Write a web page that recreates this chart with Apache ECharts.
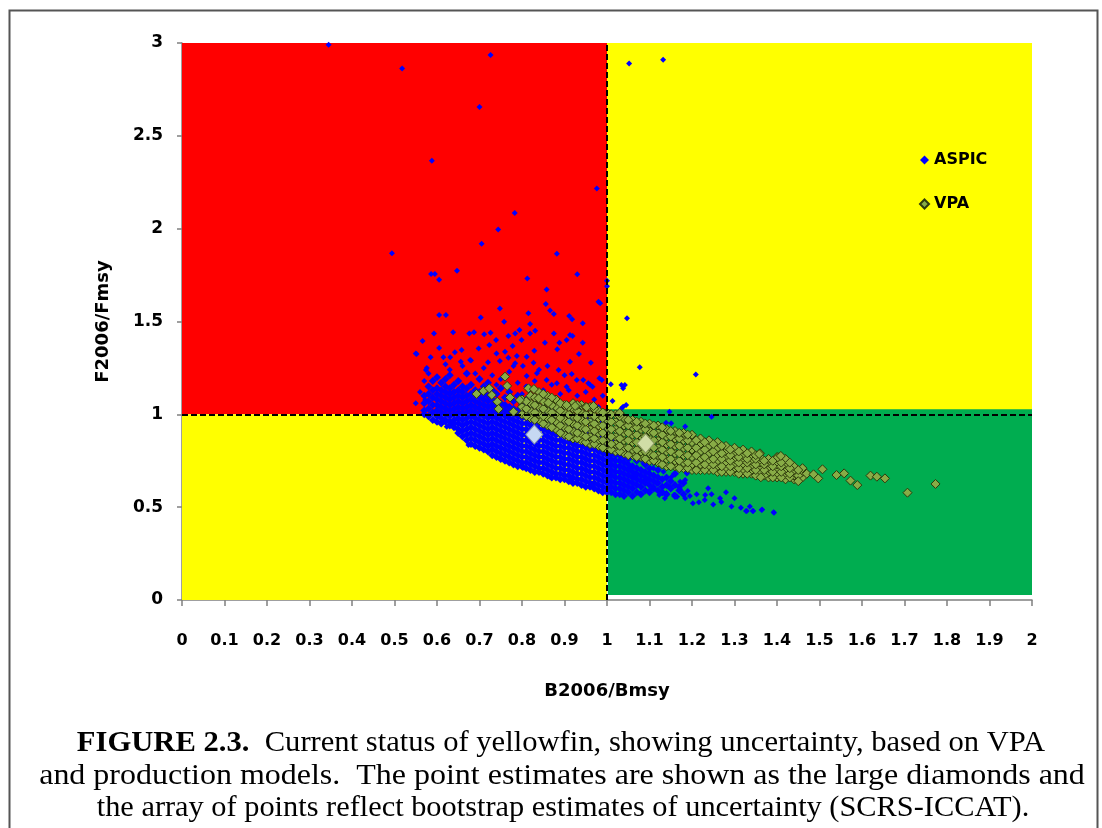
<!DOCTYPE html>
<html><head><meta charset="utf-8">
<script src="https://cdn.jsdelivr.net/npm/echarts@6/dist/echarts.min.js"></script>
<style>html,body{margin:0;padding:0;background:#fff}#c{width:1102px;height:828px}</style>
</head><body><div id="c"></div><script>
// ---------- tick labels ----------
const xTickLabels = ['0','0.1','0.2','0.3','0.4','0.5','0.6','0.7','0.8','0.9','1','1.1','1.2','1.3','1.4','1.5','1.6','1.7','1.8','1.9','2'];
const yTickLabels = ['0','0.5','1','1.5','2','2.5','3'];

// ---------- status zones (x0, y0, x1, y1) ----------
const zoneRed      = [0, 1, 1, 3];
const zoneYellowTR = [1, 1, 2, 3];
const zoneYellowBL = [0, 0, 1, 1];
const zoneGreen    = [1.002, 0.027, 2.002, 1.027];
const refX = 1, refY = 1;

// ---------- ASPIC bootstrap points: dense band, by column ----------
const aspicColX = [0.57,0.58,0.59,0.60,0.61,0.62,0.63,0.64,0.65,0.66,0.67,0.68,0.69,0.70,0.71,0.72,0.73,0.74,0.75,0.76,0.77,0.78,0.79,0.80,0.81,0.82,0.83,0.84,0.85,0.86,0.87,0.88,0.89,0.90,0.91,0.92,0.93,0.94,0.95,0.96,0.97,0.98,0.99,1.00,1.01,1.02,1.03,1.04,1.05,1.06,1.07,1.08,1.09,1.10,1.11,1.12,1.13,1.14,1.15,1.16,1.17,1.18];
const aspicColY = [
 [1.00,1.02,1.06,1.10],
 [0.99,1.03,1.07,1.11,1.15],
 [0.97,1.01,1.05,1.09,1.13,1.18],
 [0.96,0.99,1.02,1.05,1.08,1.11,1.14,1.20],
 [0.95,0.98,1.01,1.04,1.07,1.10,1.13,1.17],
 [0.96,0.97,1.00,1.03,1.06,1.09,1.12,1.15,1.19],
 [0.94,0.96,0.99,1.02,1.05,1.08,1.11,1.14,1.21],
 [0.93,0.95,0.97,1.00,1.03,1.06,1.09,1.12,1.16],
 [0.90,0.92,0.95,0.98,1.01,1.04,1.07,1.10,1.13,1.18],
 [0.88,0.91,0.94,0.97,1.00,1.03,1.06,1.09,1.12,1.15],
 [0.86,0.89,0.92,0.95,0.98,1.01,1.04,1.07,1.10,1.14,1.22],
 [0.84,0.87,0.90,0.93,0.96,0.99,1.02,1.05,1.08,1.11,1.16],
 [0.83,0.86,0.89,0.92,0.95,0.98,1.01,1.04,1.07,1.10,1.13],
 [0.82,0.85,0.88,0.91,0.94,0.97,1.00,1.03,1.06,1.09,1.12,1.19],
 [0.81,0.84,0.87,0.90,0.93,0.96,0.99,1.02,1.05,1.08,1.11,1.15],
 [0.80,0.83,0.86,0.89,0.92,0.95,0.98,1.01,1.04,1.07,1.10,1.17],
 [0.78,0.81,0.84,0.87,0.90,0.93,0.96,0.99,1.02,1.05,1.08,1.13],
 [0.77,0.80,0.83,0.86,0.89,0.92,0.95,0.98,1.01,1.04,1.07,1.11],
 [0.76,0.79,0.82,0.85,0.88,0.91,0.94,0.97,1.00,1.03,1.06,1.14],
 [0.75,0.78,0.81,0.84,0.87,0.90,0.93,0.96,0.99,1.02,1.05,1.09],
 [0.74,0.77,0.80,0.83,0.86,0.89,0.92,0.95,0.98,1.01,1.04,1.12],
 [0.73,0.76,0.79,0.82,0.85,0.88,0.91,0.94,0.97,1.00,1.03,1.07],
 [0.72,0.75,0.78,0.81,0.84,0.87,0.90,0.93,0.96,0.99,1.02,1.10],
 [0.72,0.74,0.77,0.80,0.83,0.86,0.89,0.92,0.95,0.98,1.01,1.05],
 [0.71,0.74,0.77,0.80,0.83,0.86,0.89,0.92,0.95,0.98,1.01,1.08],
 [0.70,0.73,0.76,0.79,0.82,0.85,0.88,0.91,0.94,0.97,1.00,1.04],
 [0.69,0.72,0.75,0.78,0.81,0.84,0.87,0.90,0.93,0.96,0.99,1.06],
 [0.69,0.71,0.74,0.77,0.80,0.83,0.86,0.89,0.92,0.95,0.98,1.02],
 [0.68,0.71,0.74,0.77,0.80,0.83,0.86,0.89,0.92,0.95,0.98,1.04],
 [0.67,0.70,0.73,0.76,0.79,0.82,0.85,0.88,0.91,0.94,0.97,1.01],
 [0.66,0.69,0.72,0.75,0.78,0.81,0.84,0.87,0.90,0.93,0.96,1.03],
 [0.66,0.68,0.71,0.74,0.77,0.80,0.83,0.86,0.89,0.92,0.95,0.99],
 [0.65,0.68,0.71,0.74,0.77,0.80,0.83,0.86,0.89,0.92,0.95,1.02],
 [0.65,0.67,0.70,0.73,0.76,0.79,0.82,0.85,0.88,0.91,0.94,0.98],
 [0.64,0.67,0.70,0.73,0.76,0.79,0.82,0.85,0.88,0.91,0.94,1.00],
 [0.63,0.66,0.69,0.72,0.75,0.78,0.81,0.84,0.87,0.90,0.93,0.97],
 [0.63,0.65,0.68,0.71,0.74,0.77,0.80,0.83,0.86,0.89,0.92,0.99],
 [0.62,0.65,0.68,0.71,0.74,0.77,0.80,0.83,0.86,0.89,0.92,0.96],
 [0.61,0.64,0.67,0.70,0.73,0.76,0.79,0.82,0.85,0.88,0.91,0.98],
 [0.61,0.63,0.66,0.69,0.72,0.75,0.78,0.81,0.84,0.87,0.90,0.95],
 [0.60,0.63,0.66,0.69,0.72,0.75,0.78,0.81,0.84,0.87,0.90,0.97],
 [0.59,0.62,0.65,0.68,0.71,0.74,0.77,0.80,0.83,0.86,0.89,0.94],
 [0.58,0.61,0.64,0.67,0.70,0.73,0.76,0.79,0.82,0.85,0.88,0.96],
 [0.58,0.60,0.63,0.66,0.69,0.72,0.75,0.78,0.81,0.84,0.87,0.92],
 [0.58,0.61,0.64,0.67,0.70,0.73,0.76,0.79,0.82,0.85],
 [0.57,0.60,0.63,0.66,0.69,0.72,0.75,0.78,0.81,0.86],
 [0.57,0.60,0.63,0.66,0.69,0.72,0.75,0.78,0.83],
 [0.56,0.59,0.62,0.65,0.68,0.71,0.74,0.77,0.80],
 [0.58,0.61,0.64,0.67,0.70,0.73,0.76,0.82],
 [0.56,0.60,0.63,0.66,0.69,0.72,0.78],
 [0.58,0.62,0.65,0.68,0.71,0.75],
 [0.57,0.61,0.64,0.67,0.70,0.76],
 [0.59,0.63,0.66,0.69,0.73],
 [0.58,0.62,0.65,0.68,0.71],
 [0.60,0.64,0.67,0.74],
 [0.59,0.63,0.66,0.70],
 [0.58,0.61,0.65],
 [0.57,0.62,0.66],
 [0.60,0.64],
 [0.56,0.62,0.68],
 [0.59,0.61],
 [0.57,0.63]
];
// ---------- ASPIC scattered points ----------
const aspicScatter = [
 [0.345,2.99],[0.726,2.935],[0.518,2.862],[0.70,2.655],[0.588,2.366],[0.976,2.217],[0.783,2.084],[0.744,1.995],
 [0.705,1.919],[0.494,1.867],[0.882,1.865],[0.586,1.756],[0.595,1.756],[0.605,1.725],[0.647,1.774],[0.8125,1.731],
 [0.93,1.754],[0.858,1.673],[1.0,1.72],[1.0,1.69],[1.052,2.89],[1.132,2.91],[1.047,1.518],[1.077,1.253],[1.209,1.214],
 [0.988,1.185],[1.009,1.162],[1.042,1.158],[1.038,1.14],[1.013,1.072],[1.045,1.05],[1.038,1.041],[1.147,1.014],
 [1.246,0.987],[1.139,0.955],[1.151,0.952],[1.184,0.934],[1.034,1.158],[1.034,1.032],
 [0.605,1.535],[0.621,1.535],[0.593,1.436],[0.638,1.442],[0.566,1.395],[0.552,1.325],[0.574,1.239],[0.605,1.357],
 [0.585,1.307],[0.615,1.307],[0.642,1.334],[0.658,1.346],[0.676,1.436],[0.687,1.442],[0.711,1.431],[0.703,1.521],
 [0.748,1.57],[0.758,1.499],[0.726,1.44],[0.739,1.40],[0.723,1.373],[0.698,1.354],[0.678,1.293],[0.656,1.283],
 [0.631,1.307],[0.768,1.422],[0.784,1.436],[0.794,1.454],[0.819,1.436],[0.819,1.486],[0.815,1.544],[0.831,1.45],
 [0.799,1.40],[0.778,1.368],[0.76,1.337],[0.74,1.328],[0.748,1.287],[0.768,1.305],[0.788,1.314],[0.811,1.31],
 [0.829,1.343],[0.856,1.594],[0.866,1.559],[0.875,1.54],[0.854,1.386],[0.875,1.436],[0.888,1.386],[0.883,1.35],
 [0.905,1.40],[0.913,1.427],[0.919,1.422],[0.911,1.53],[0.918,1.512],[0.943,1.49],[0.943,1.386],[0.913,1.283],
 [0.934,1.325],[0.962,1.278],[0.98,1.607],[0.984,1.598],[0.966,1.149],[0.944,1.185],[0.917,1.217],[0.886,1.239],
 [0.86,1.26],[0.827,1.278],[0.802,1.26],[0.784,1.275],[0.835,1.221],[0.811,1.206],[0.858,1.185],[0.882,1.167],
 [0.905,1.149],[0.929,1.185],[0.956,1.167],[0.982,1.194],[0.55,1.328],[0.576,1.25],[0.591,1.131],[0.572,1.077],
 [0.63,1.24],[0.66,1.26],[0.69,1.22],[0.71,1.25],[0.73,1.21],[0.75,1.19],[0.77,1.23],[0.79,1.17],[0.81,1.15],
 [0.83,1.18],[0.85,1.13],[0.87,1.16],[0.89,1.11],[0.91,1.13],[0.93,1.10],[0.95,1.12],[0.97,1.08],[0.99,1.10],
 [0.72,1.28],[0.78,1.26],[0.84,1.24],[0.90,1.21],[0.96,1.16],[0.62,1.27],[0.68,1.29],[0.86,1.09],[0.92,1.06],
 [0.98,1.04],[0.80,1.11],[0.74,1.16],[0.57,1.18],[0.56,1.12],[0.55,1.06],[0.58,1.22],
 [0.623,0.933],[0.674,0.835],[0.748,0.765],[0.802,0.711],[0.866,0.662],[0.913,0.646],[0.967,0.609],[0.988,0.583],
 [1.28,0.58],[1.30,0.548],[1.329,0.479],[1.344,0.479],[1.365,0.488],[1.392,0.472],[1.315,0.497],[1.293,0.503],
 [1.269,0.528],[1.25,0.515],[1.238,0.602],[1.246,0.569],[1.23,0.539],[1.216,0.526],[1.211,0.569],[1.202,0.521],
 [1.184,0.548],[1.19,0.587],[1.172,0.596],[1.165,0.556],[1.158,0.567],[1.136,0.548],[1.131,0.575],[1.123,0.566],
 [1.101,0.592],[1.336,0.503],[1.327,0.479],[1.343,0.479],[1.364,0.485],[1.393,0.47],[1.266,0.548],[1.231,0.566],
 [1.195,0.56],[1.188,0.686],[1.184,0.646],[1.16,0.566],[1.14,0.575],[1.109,0.61],[1.093,0.646],[1.078,0.575],
 [1.07,0.679],[1.054,0.718],[1.086,0.736],[1.109,0.709],[1.133,0.691],[1.152,0.664],[1.172,0.637],[1.188,0.682],
 [1.148,0.61],[1.117,0.625],[1.086,0.637],[1.062,0.664],[1.14,0.566],[1.164,0.557]
];

// ---------- VPA bootstrap points: dense band, by column ----------
const vpaColX = [0.80,0.82,0.84,0.86,0.88,0.90,0.92,0.94,0.96,0.98,1.00,1.02,1.04,1.06,1.08,1.10,1.12,1.14,1.16,1.18,1.20,1.22,1.24,1.26,1.28,1.30,1.32,1.34,1.36,1.38,1.40,1.42,1.44,1.46];
const vpaColY = [
 [1.00,1.04,1.08],
 [0.98,1.02,1.06,1.10],
 [0.97,1.00,1.04,1.08,1.12],
 [0.94,0.98,1.02,1.06,1.10],
 [0.92,0.96,1.00,1.04,1.08],
 [0.89,0.93,0.97,1.01,1.05],
 [0.87,0.91,0.95,0.99,1.03,1.06],
 [0.86,0.89,0.93,0.97,1.01,1.05],
 [0.84,0.88,0.92,0.96,1.00,1.04],
 [0.83,0.86,0.90,0.94,0.98,1.02],
 [0.81,0.85,0.89,0.93,0.97,1.01],
 [0.80,0.84,0.88,0.92,0.96,1.00],
 [0.79,0.82,0.86,0.90,0.94,0.98],
 [0.78,0.81,0.85,0.89,0.93,0.97],
 [0.77,0.80,0.84,0.88,0.92,0.96],
 [0.75,0.79,0.83,0.87,0.91,0.95],
 [0.74,0.78,0.82,0.86,0.90,0.94],
 [0.72,0.76,0.80,0.84,0.88,0.92],
 [0.72,0.75,0.79,0.83,0.87,0.91],
 [0.71,0.74,0.78,0.82,0.86,0.90],
 [0.70,0.73,0.77,0.81,0.85,0.89],
 [0.70,0.73,0.76,0.80,0.84,0.87],
 [0.70,0.72,0.75,0.79,0.83,0.86],
 [0.69,0.72,0.75,0.78,0.82,0.85],
 [0.69,0.71,0.74,0.77,0.80,0.83],
 [0.69,0.71,0.73,0.76,0.79,0.82],
 [0.68,0.70,0.73,0.76,0.78,0.81],
 [0.68,0.70,0.72,0.75,0.78,0.80],
 [0.67,0.69,0.72,0.74,0.77,0.79],
 [0.66,0.69,0.71,0.74,0.76],
 [0.66,0.68,0.71,0.73,0.77],
 [0.65,0.68,0.70,0.73,0.76],
 [0.65,0.67,0.70,0.72],
 [0.66,0.69,0.71]
];
const vpaColX2 = [0.81,0.83,0.85,0.87,0.89,0.91,0.93,0.95,0.97,0.99,1.01,1.03,1.05,1.07,1.09,1.11,1.13,1.15,1.17,1.19,1.21,1.23,1.25,1.27,1.29,1.31,1.33,1.35,1.37,1.39,1.41,1.43,1.45];
const vpaColY2 = [
 [0.99,1.03,1.07],
 [0.97,1.01,1.05,1.09],
 [0.95,0.99,1.03,1.07,1.11],
 [0.93,0.97,1.01,1.05,1.09],
 [0.90,0.94,0.98,1.02,1.06],
 [0.88,0.92,0.96,1.00,1.04],
 [0.87,0.90,0.94,0.98,1.02,1.05],
 [0.85,0.88,0.92,0.96,1.00,1.04],
 [0.84,0.87,0.91,0.95,0.99,1.03],
 [0.82,0.86,0.90,0.94,0.98,1.01],
 [0.81,0.84,0.88,0.92,0.96,1.00],
 [0.80,0.83,0.87,0.91,0.95,0.99],
 [0.78,0.82,0.86,0.90,0.94,0.97],
 [0.77,0.81,0.85,0.89,0.93,0.96],
 [0.76,0.80,0.84,0.88,0.92,0.95],
 [0.75,0.78,0.82,0.86,0.90,0.94],
 [0.73,0.77,0.81,0.85,0.89,0.93],
 [0.72,0.76,0.80,0.84,0.88,0.91],
 [0.71,0.75,0.79,0.83,0.87,0.90],
 [0.71,0.74,0.78,0.82,0.86,0.89],
 [0.70,0.74,0.78,0.82,0.86],
 [0.70,0.73,0.77,0.81,0.85],
 [0.70,0.73,0.76,0.80,0.84],
 [0.69,0.72,0.76,0.79,0.83],
 [0.69,0.72,0.75,0.78,0.81],
 [0.68,0.71,0.74,0.77,0.80],
 [0.68,0.71,0.74,0.76,0.79],
 [0.67,0.70,0.73,0.76,0.78],
 [0.67,0.70,0.73,0.75],
 [0.66,0.69,0.72,0.75],
 [0.66,0.69,0.72,0.74],
 [0.66,0.68,0.71,0.74],
 [0.67,0.70]
];
const vpaScatter = [
 [0.693,1.11],[0.709,1.126],[0.723,1.14],[0.729,1.104],[0.742,1.068],[0.745,1.029],[0.76,1.203],[0.765,1.153],
 [0.772,1.091],[0.78,1.014],[0.795,1.077],[0.815,1.14],[0.828,1.136],[0.839,1.086],[0.862,1.063],[0.905,1.05],
 [0.925,1.045],[0.952,1.038],[0.968,1.045],[1.03,1.007],
 [1.358,0.786],[1.362,0.661],[1.402,0.769],[1.409,0.776],[1.45,0.64],[1.47,0.68],[1.486,0.677],[1.497,0.655],
 [1.507,0.704],[1.54,0.673],[1.558,0.682],[1.573,0.643],[1.589,0.619],[1.62,0.67],[1.635,0.664],[1.654,0.655],
 [1.707,0.578],[1.773,0.625]
];

// ---------- point estimates ----------
const aspicEstimate = [0.829, 0.891];
const vpaEstimate   = [1.091, 0.843];

// ---------- caption ----------
const captionLines = [
  '{b|FIGURE 2.3.}{n|  Current status of yellowfin, showing uncertainty, based on VPA}',
  'and production models.  The point estimates are shown as the large diamonds and',
  'the array of points reflect bootstrap estimates of uncertainty (SCRS-ICCAT).'
];

function buildCols(xs, ys) {
  const out = [];
  xs.forEach((x, i) => ys[i].forEach(y => out.push([x, y])));
  return out;
}
const aspicBand = buildCols(aspicColX, aspicColY);
const vpaData = buildCols(vpaColX, vpaColY).concat(buildCols(vpaColX2, vpaColY2)).concat(vpaScatter);

function zoneArea(z, color) {
  return [{ coord: [z[0], z[1]], itemStyle: { color: color, opacity: 1 } }, { coord: [z[2], z[3]] }];
}

const chart = echarts.init(document.getElementById('c'), null, { renderer: 'canvas' });
const boldFont = 'DejaVu Sans';
const serif = 'Liberation Serif';
const aspicStyle = { color: '#0000FF', opacity: 1 };
const captionRich = { b: { fontFamily: serif, fontWeight: 'bold', fontSize: 30, fill: '#000' },
                      n: { fontFamily: serif, fontSize: 30, fill: '#000' } };
const captionPos = [[561, 743, 1.02], [562, 776, 1.066], [563, 808, 1.012]];

chart.setOption({
  animation: false,
  backgroundColor: '#ffffff',
  grid: { left: 182, right: 70, top: 43, bottom: 228, containLabel: false },
  legend: {
    data: ['ASPIC', 'VPA'],
    orient: 'vertical', left: 914, top: 145, itemGap: 24,
    itemWidth: 9, itemHeight: 9, icon: 'diamond',
    textStyle: { fontFamily: boldFont, fontWeight: 'bold', fontSize: 16, color: '#000', lineHeight: 20 },
    selectedMode: false
  },
  xAxis: {
    type: 'value', min: 0, max: 2, interval: 0.1,
    name: 'B2006/Bmsy', nameLocation: 'middle', nameGap: 82,
    nameTextStyle: { fontFamily: boldFont, fontWeight: 'bold', fontSize: 18, color: '#000' },
    axisLine: { show: true, onZero: false, lineStyle: { color: '#808080', width: 1.5 } },
    axisTick: { show: true, length: 6, lineStyle: { color: '#808080', width: 1.5 } },
    axisLabel: { margin: 33, fontFamily: boldFont, fontWeight: 'bold', fontSize: 16, color: '#000',
      formatter: v => xTickLabels[Math.round(v * 10)] },
    splitLine: { show: false }
  },
  yAxis: {
    type: 'value', min: 0, max: 3, interval: 0.5,
    name: 'F2006/Fmsy', nameLocation: 'middle', nameGap: 70, nameRotate: 90,
    nameTextStyle: { fontFamily: boldFont, fontWeight: 'bold', fontSize: 18, color: '#000' },
    axisLine: { show: true, lineStyle: { color: '#808080', width: 1.5 } },
    axisTick: { show: true, length: 5, lineStyle: { color: '#808080', width: 1.5 } },
    axisLabel: { margin: 19, fontFamily: boldFont, fontWeight: 'bold', fontSize: 17, color: '#000',
      formatter: v => yTickLabels[Math.round(v * 2)] },
    splitLine: { show: false }
  },
  series: [
    {
      name: 'zones', type: 'scatter', data: [], z: 1, silent: true,
      markArea: { silent: true, data: [
        zoneArea(zoneRed, '#FF0000'),
        zoneArea(zoneYellowTR, '#FFFF00'),
        zoneArea(zoneYellowBL, '#FFFF00'),
        zoneArea(zoneGreen, '#00AD50')
      ] },
      markLine: { silent: true, symbol: ['none', 'none'], label: { show: false },
        lineStyle: { color: '#000', width: 2, type: [6, 3] },
        emphasis: { disabled: true },
        data: [{ xAxis: refX }, { yAxis: refY }] }
    },
    {
      name: 'ASPIC', type: 'scatter', data: aspicBand, z: 2, symbol: 'diamond', symbolSize: 8,
      itemStyle: aspicStyle, emphasis: { disabled: true }
    },
    {
      name: 'ASPIC', type: 'scatter', data: aspicScatter, z: 2, symbol: 'diamond', symbolSize: 6,
      itemStyle: aspicStyle, emphasis: { disabled: true }
    },
    {
      name: 'VPA', type: 'scatter', data: vpaData, z: 3, symbol: 'diamond', symbolSize: 9,
      itemStyle: { color: '#88AC46', borderColor: '#2E3A0C', borderWidth: 1, opacity: 1 }, emphasis: { disabled: true }
    },
    {
      name: 'ASPIC estimate', type: 'scatter', data: [aspicEstimate], z: 4, symbol: 'diamond', symbolSize: [17, 19],
      itemStyle: { color: '#C6D8F2', borderColor: '#8797AA', borderWidth: 1, opacity: 1 }, emphasis: { disabled: true }
    },
    {
      name: 'VPA estimate', type: 'scatter', data: [vpaEstimate], z: 4, symbol: 'diamond', symbolSize: [17, 19],
      itemStyle: { color: '#D0DDA6', borderColor: '#8A9A60', borderWidth: 1, opacity: 1 }, emphasis: { disabled: true }
    }
  ],
  graphic: [
    { type: 'rect', silent: true, shape: { x: 9.5, y: 10.5, width: 1088, height: 840 },
      style: { fill: 'none', stroke: '#555555', lineWidth: 2 } }
  ].concat(captionLines.map((t, i) => ({
    type: 'text', silent: true, x: captionPos[i][0], y: captionPos[i][1], scaleX: captionPos[i][2],
    style: { text: t, align: 'center', verticalAlign: 'middle', fill: '#000',
      fontFamily: serif, fontSize: 30, rich: captionRich }
  })))
});
</script></body></html>
